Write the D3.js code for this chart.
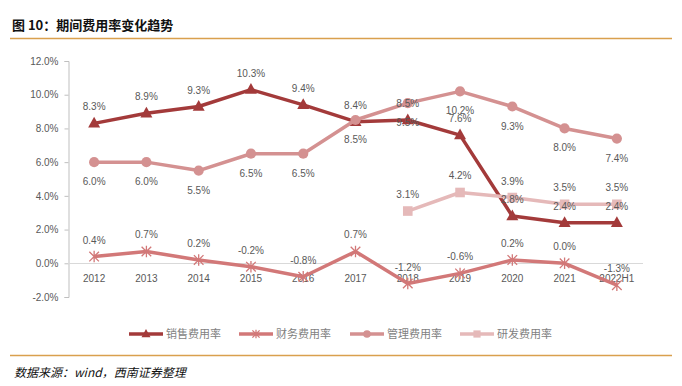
<!DOCTYPE html>
<html>
<head>
<meta charset="utf-8">
<script src="https://cdn.jsdelivr.net/npm/d3@7"></script>
<style>
  body { margin: 0; background: #fff; }
  svg { display: block; }
</style>
</head>
<body>
<svg id="chart" width="682" height="386"></svg>
<script>
const categories = ['2012', '2013', '2014', '2015', '2016', '2017', '2018', '2019', '2020', '2021', '2022H1'];
const salesRate = [8.3, 8.9, 9.3, 10.3, 9.4, 8.4, 8.5, 7.6, 2.8, 2.4, 2.4];
const financeRate = [0.4, 0.7, 0.2, -0.2, -0.8, 0.7, -1.2, -0.6, 0.2, 0.0, -1.3];
const mgmtRate = [6.0, 6.0, 5.5, 6.5, 6.5, 8.5, 9.5, 10.2, 9.3, 8.0, 7.4];
const rdRate = [null, null, null, null, null, null, 3.1, 4.2, 3.9, 3.5, 3.5];
const yTicks = [-2, 0, 2, 4, 6, 8, 10, 12];

const series = [
  { name: '销售费用率', values: salesRate, color: '#A33A3A', marker: 'triangle', labelPos: 'above' },
  { name: '财务费用率', values: financeRate, color: '#D27878', marker: 'cross', labelPos: 'above' },
  { name: '管理费用率', values: mgmtRate, color: '#D49191', marker: 'circle', labelPos: 'below' },
  { name: '研发费用率', values: rdRate, color: '#E5B9B9', marker: 'square', labelPos: 'above' }
];

const svg = d3.select('#chart');
const textColor = '#595959';

// header
svg.append('text')
  .attr('x', 12).attr('y', 30)
  .attr('font-family', '"Noto Sans CJK SC", sans-serif')
  .attr('font-size', 13).attr('font-weight', 'bold')
  .attr('fill', '#111')
  .text('图 10：期间费用率变化趋势');

svg.append('line')
  .attr('x1', 10).attr('x2', 672).attr('y1', 38.5).attr('y2', 38.5)
  .attr('stroke', '#D9A04E').attr('stroke-width', 1.5);

svg.append('line')
  .attr('x1', 10).attr('x2', 672).attr('y1', 355.5).attr('y2', 355.5)
  .attr('stroke', '#D9A04E').attr('stroke-width', 1.5);

svg.append('text')
  .attr('x', 14).attr('y', 377)
  .attr('font-family', '"Noto Sans CJK SC", sans-serif')
  .attr('font-size', 12).attr('font-style', 'italic')
  .attr('fill', '#111')
  .text('数据来源：wind，西南证券整理');

// scales
const x = d3.scaleBand().domain(categories).range([68, 643]);
const y = d3.scaleLinear().domain([-2, 12]).range([297, 61]);
const cx = d => x(d) + x.bandwidth() / 2;

// y axis
const yAxis = svg.append('g')
  .attr('transform', 'translate(68.5,0)')
  .call(d3.axisLeft(y).tickValues(yTicks).tickSize(4).tickPadding(6).tickFormat(d => d.toFixed(1) + '%'));
yAxis.select('.domain').attr('stroke', '#BFBFBF');
yAxis.selectAll('.tick line').attr('stroke', '#BFBFBF');
yAxis.selectAll('.tick text')
  .attr('font-family', '"Liberation Sans", Arial, sans-serif')
  .attr('font-size', 10).attr('fill', textColor);

// zero line
svg.append('line')
  .attr('x1', 68).attr('x2', 643)
  .attr('y1', Math.round(y(0)) + 0.5).attr('y2', Math.round(y(0)) + 0.5)
  .attr('stroke', '#D9D9D9').attr('stroke-width', 1);

// x labels
svg.append('g').selectAll('text')
  .data(categories).join('text')
  .attr('x', d => cx(d)).attr('y', y(0) + 19)
  .attr('text-anchor', 'middle')
  .attr('font-family', '"Liberation Sans", Arial, sans-serif')
  .attr('font-size', 10).attr('fill', textColor)
  .text(d => d);

const line = d3.line()
  .defined(d => d.v !== null)
  .x(d => cx(d.c)).y(d => y(d.v));

function drawMarker(g, type, color, px, py, s) {
  if (type === 'triangle') {
    g.append('path')
      .attr('d', `M${px},${py - s * 1.1}L${px + s},${py + s * 0.7}L${px - s},${py + s * 0.7}Z`)
      .attr('fill', color);
  } else if (type === 'circle') {
    g.append('circle').attr('cx', px).attr('cy', py).attr('r', s * 0.85).attr('fill', color);
  } else if (type === 'square') {
    g.append('rect').attr('x', px - s * 0.8).attr('y', py - s * 0.8)
      .attr('width', s * 1.6).attr('height', s * 1.6).attr('fill', color);
  } else if (type === 'cross') {
    const r = s * 0.8;
    g.append('path')
      .attr('d', `M${px - r},${py - r}L${px + r},${py + r}M${px - r},${py + r}L${px + r},${py - r}M${px},${py - r * 1.2}L${px},${py + r * 1.2}`)
      .attr('stroke', color).attr('stroke-width', 1.3).attr('fill', 'none');
  }
}

const plot = svg.append('g');
series.forEach(s => {
  const pts = categories.map((c, i) => ({ c, v: s.values[i] }));
  const g = plot.append('g');
  g.append('path')
    .datum(pts)
    .attr('d', line)
    .attr('fill', 'none')
    .attr('stroke', s.color)
    .attr('stroke-width', 3.5)
    .attr('stroke-linejoin', 'round');
  pts.filter(d => d.v !== null).forEach(d => {
    drawMarker(g, s.marker, s.color, cx(d.c), y(d.v), 6);
  });
});

// data labels on top
series.forEach(s => {
  const pts = categories.map((c, i) => ({ c, v: s.values[i] })).filter(d => d.v !== null);
  plot.append('g').selectAll('text')
    .data(pts).join('text')
    .attr('x', d => cx(d.c))
    .attr('y', d => s.labelPos === 'above' ? y(d.v) - 13 : y(d.v) + 23)
    .attr('text-anchor', 'middle')
    .attr('font-family', '"Liberation Sans", Arial, sans-serif')
    .attr('font-size', 10).attr('fill', textColor)
    .text(d => d.v.toFixed(1) + '%');
});

// legend
const legendX = [129, 239, 350, 460];
const legend = svg.append('g');
series.forEach((s, i) => {
  const lx = legendX[i], ly = 334;
  legend.append('line')
    .attr('x1', lx).attr('x2', lx + 34).attr('y1', ly).attr('y2', ly)
    .attr('stroke', s.color).attr('stroke-width', 3.5);
  drawMarker(legend, s.marker, s.color, lx + 17, ly, 4.5);
  legend.append('text')
    .attr('x', lx + 37).attr('y', ly + 4)
    .attr('font-family', '"Noto Sans CJK SC", sans-serif')
    .attr('font-size', 11).attr('fill', '#7F7F7F')
    .text(s.name);
});
</script>
</body>
</html>
